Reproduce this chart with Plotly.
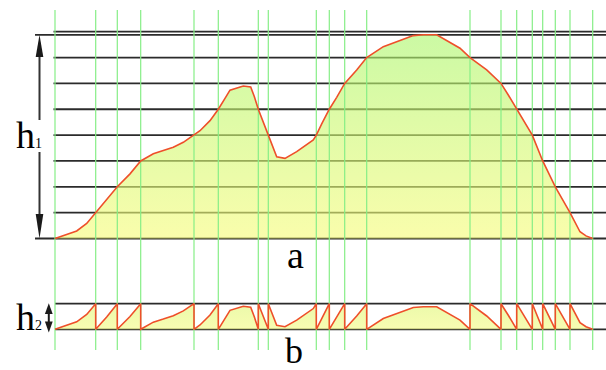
import math
import plotly.graph_objects as go

# Profile along the track: distance and height (height in level units)
distance = [0, 11.7, 21.7, 31.7, 40.7, 51.7, 62.3, 75, 85.7, 98.3, 108.3, 118.3,
            128.3, 139, 145, 155, 163.3, 170, 175, 188.3, 195.7, 199.3, 203.3,
            213.3, 221.7, 230, 241.7, 258.3, 261.3, 266.7, 271.7, 274.3, 281.7,
            289.7, 301.7, 311.7, 328.3, 345, 358.3, 368.3, 381.7, 405, 415,
            431.7, 446, 453.3, 461.7, 469.5, 477.3, 487.7, 500.3, 515, 525,
            531, 537.7]
height = [0, 0.15, 0.29, 0.58, 1, 1.48, 2, 2.5, 3, 3.28, 3.40, 3.53,
          3.72, 4, 4.17, 4.56, 5, 5.42, 5.74, 5.90, 5.86, 5.49, 5,
          4, 3.16, 3.10, 3.36, 3.81, 4, 4.43, 4.84, 5, 5.46,
          6, 6.52, 7, 7.42, 7.65, 7.85, 7.88, 7.88, 7.36, 7,
          6.52, 6, 5.55, 5, 4.5, 4, 3, 2, 1, 0.26,
          0.1, 0]

panel_labels = ["a", "b"]
band_labels = ["h<span style='font-size:14px'>1</span>",
               "h<span style='font-size:14px'>2</span>"]

W, H = 606, 370
X_OFF = 55.0            # pixel column of distance 0
Y0, UNIT = 238.5, 25.85  # pixel row of level 0, pixels per level
B0, BUNIT = 329.3, 25.6  # lower band: pixel row of 0, pixels per unit


def px(xp):
    return xp / W


def py(yp):
    return 1 - yp / H


# Wrapped profile (height modulo one level), with jumps at level crossings
wx, wy = [], []
n = len(distance)
for i, (d, h) in enumerate(zip(distance, height)):
    if float(h).is_integer():
        if i == 0 or i == n - 1:
            wx.append(d)
            wy.append(0.0)
            continue
        left = 1.0 if height[i - 1] < h else 0.0
        right = 0.0 if height[i + 1] > h else 1.0
        wx += [d, d]
        wy += [left, right]
    else:
        wx.append(d)
        wy.append(h - math.floor(h))

crossings = [d for d, h in zip(distance, height) if float(h).is_integer()]
peak = max(height)
top_level = math.ceil(peak)

fig = go.Figure()

# reference levels (below the fills)
shapes = []
line_style = dict(color="#2b2b2b", width=1.8)
x_right = W - X_OFF
for lvl in range(0, top_level + 1):
    x0 = -20 if lvl == 0 else -1.5
    shapes.append(dict(type="line", xref="x", yref="y", x0=x0, x1=x_right,
                       y0=lvl, y1=lvl, line=line_style, layer="below"))
shapes.append(dict(type="line", xref="x", yref="y", x0=-20, x1=x_right,
                   y0=peak, y1=peak, line=line_style, layer="below"))
for lvl in (0, 1):
    shapes.append(dict(type="line", xref="x", yref="y2", x0=0, x1=x_right,
                       y0=lvl, y1=lvl, line=line_style, layer="below"))


def arrow_head(cx, tip, base, hw):
    return (f"M{px(cx)},{py(tip)} L{px(cx - hw)},{py(base)} "
            f"L{px(cx + hw)},{py(base)} Z")


arrow_col = "#1a1a1a"
# h1 double arrow with gap for its label
for tip, base in ((34.7, 57), (Y0, 214)):
    shapes.append(dict(type="path", xref="paper", yref="paper",
                       path=arrow_head(39.5, tip, base, 3.8),
                       fillcolor=arrow_col, line=dict(width=0)))
for a, b in ((57, 120), (152, 214)):
    shapes.append(dict(type="line", xref="paper", yref="paper",
                       x0=px(39.5), x1=px(39.5), y0=py(a), y1=py(b),
                       line=dict(color="#333333", width=2)))
# h2 double arrow
for tip, base in ((303.3, 314), (332.5, 321.5)):
    shapes.append(dict(type="path", xref="paper", yref="paper",
                       path=arrow_head(48.8, tip, base, 3.9),
                       fillcolor=arrow_col, line=dict(width=0)))
shapes.append(dict(type="line", xref="paper", yref="paper",
                   x0=px(48.8), x1=px(48.8), y0=py(313), y1=py(322),
                   line=dict(color=arrow_col, width=2)))

# filled profile
fig.add_trace(go.Scatter(
    x=distance, y=height, mode="lines", line=dict(width=0),
    fill="tozeroy",
    fillgradient=dict(type="vertical", start=0, stop=peak,
                      colorscale=[[0, "rgba(246,252,120,0.62)"],
                                  [1, "rgba(172,246,108,0.62)"]]),
    hoverinfo="skip", showlegend=False))
# filled wrapped profile
fig.add_trace(go.Scatter(
    x=wx, y=wy, yaxis="y2", mode="lines", line=dict(width=0),
    fill="tozeroy",
    fillgradient=dict(type="vertical", start=0, stop=1,
                      colorscale=[[0, "rgba(244,251,130,0.62)"],
                                  [1, "rgba(222,246,118,0.62)"]]),
    hoverinfo="skip", showlegend=False))

# level crossing markers
g_top = (Y0 - 10) / UNIT
g_bot = (Y0 - 350) / UNIT
gx, gy = [], []
for c in crossings:
    gx += [c, c, None]
    gy += [g_bot, g_top, None]
fig.add_trace(go.Scatter(x=gx, y=gy, mode="lines",
                         line=dict(color="#86ee86", width=1.2),
                         hoverinfo="skip", showlegend=False))

# profile outlines
red = "#ee4f2a"
fig.add_trace(go.Scatter(x=distance, y=height, mode="lines",
                         line=dict(color=red, width=1.6),
                         hoverinfo="skip", showlegend=False))
fig.add_trace(go.Scatter(x=wx, y=wy, yaxis="y2", mode="lines",
                         line=dict(color=red, width=1.6),
                         hoverinfo="skip", showlegend=False))

serif = "Liberation Serif"
annotations = [
    dict(text=panel_labels[0], x=px(295), y=py(255), xref="paper", yref="paper",
         showarrow=False, xanchor="center", yanchor="middle",
         font=dict(family=serif, size=38, color="black")),
    dict(text=panel_labels[1], x=px(293.5), y=py(351), xref="paper", yref="paper",
         showarrow=False, xanchor="center", yanchor="middle",
         font=dict(family=serif, size=36, color="black")),
    dict(text=band_labels[0], x=px(14), y=py(135), xref="paper", yref="paper",
         showarrow=False, xanchor="left", yanchor="middle",
         font=dict(family=serif, size=38, color="black")),
    dict(text=band_labels[1], x=px(14), y=py(317), xref="paper", yref="paper",
         showarrow=False, xanchor="left", yanchor="middle",
         font=dict(family=serif, size=38, color="black")),
]

fig.update_layout(
    width=W, height=H,
    margin=dict(l=0, r=0, t=0, b=0),
    paper_bgcolor="white", plot_bgcolor="white",
    xaxis=dict(range=[-X_OFF, W - X_OFF], visible=False, fixedrange=True),
    yaxis=dict(range=[(Y0 - H) / UNIT, Y0 / UNIT], visible=False),
    yaxis2=dict(range=[(B0 - H) / BUNIT, B0 / BUNIT], visible=False,
                overlaying="y"),
    shapes=shapes,
    annotations=annotations,
    showlegend=False,
)

fig.write_html("out.html")
